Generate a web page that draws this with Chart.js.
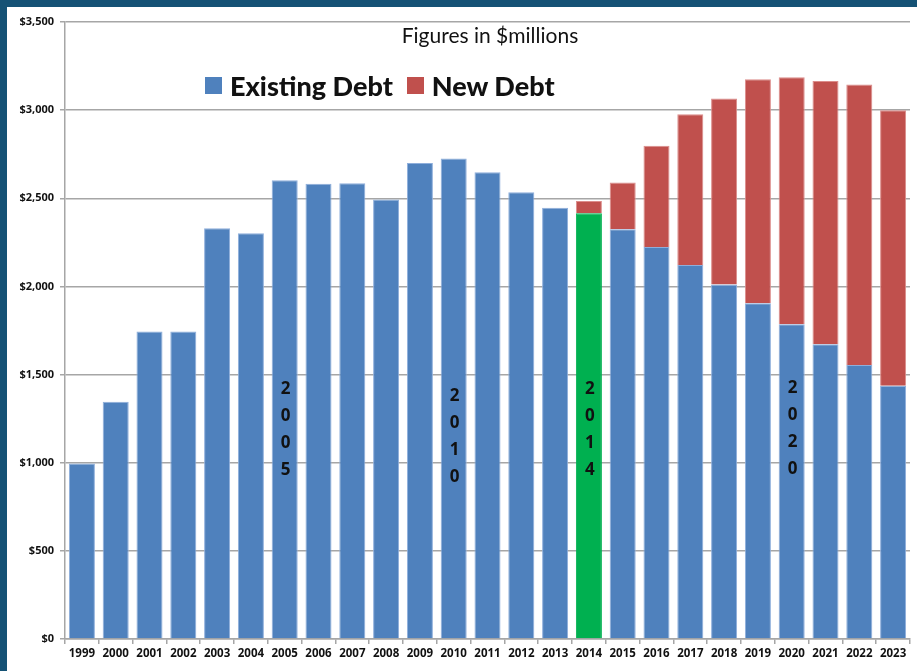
<!DOCTYPE html>
<html>
<head>
<meta charset="utf-8">
<script src="https://cdn.jsdelivr.net/npm/chart.js@4.4.1/dist/chart.umd.min.js"></script>
<style>
  html, body { margin: 0; padding: 0; }
  body { width: 917px; height: 671px; background: #155275; position: relative; overflow: hidden; font-family: Lato, 'Open Sans', sans-serif; }
  .panel { position: absolute; left: 7px; top: 7px; width: 910px; height: 664px; background: #fff; }
  .panel canvas { position: absolute; left: 0; top: 0; }
  .title { position: absolute; left: 0; width: 966px; top: 15px; text-align: center; font-size: 21px; color: #111; }
  .legend { position: absolute; left: 198px; top: 62px; display: flex; align-items: center; font-size: 27px; font-weight: 900; color: #111; }
  .legend span.sw { display: inline-block; width: 17px; height: 17px; margin-right: 8px; }
</style>
</head>
<body>
<div class="panel">
  <canvas id="chart" width="910" height="664"></canvas>
  <div class="title">Figures in $millions</div>
  <div class="legend">
    <span class="sw" style="background:#4f81bd"></span>Existing Debt
    <span class="sw" style="background:#c0504d; margin-left:14px"></span>New Debt
  </div>
</div>
<script>
const years = ['1999','2000','2001','2002','2003','2004','2005','2006','2007','2008','2009','2010','2011','2012',
  '2013','2014','2015','2016','2017','2018','2019','2020','2021','2022','2023'];
const existingDebt = [995, 1346, 1744, 1744, 2330, 2302, 2602, 2582, 2585, 2493, 2700, 2726, 2647, 2534,
  2447, 2415, 2324, 2224, 2121, 2011, 1904, 1785, 1672, 1555, 1436];
const newDebt = [0, 0, 0, 0, 0, 0, 0, 0, 0, 0, 0, 0, 0, 0,
  0, 70, 265, 574, 856, 1055, 1271, 1402, 1494, 1590, 1564];
const highlightYear = '2014';
const yTicks = [0, 500, 1000, 1500, 2000, 2500, 3000, 3500];
// vertical year captions written inside some bars, anchored at a value on the y scale
const captionYears = ['2005', '2010', '2014', '2020'];
const captionValues = [1420, 1380, 1420, 1425];

const colors = {
  blue: '#4f81bd',
  blueEdge: '#8eaedb',
  red: '#c0504d',
  redEdge: '#dc8d8b',
  green: '#00b050',
  greenEdge: '#00b050',
  grid: '#a6a6a6',
  text: '#111',
};

const captionPlugin = {
  id: 'captions',
  afterDatasetsDraw(chart) {
    const { ctx, scales: { x, y } } = chart;
    ctx.save();
    ctx.font = 'bold 17px "Open Sans", sans-serif';
    ctx.fillStyle = colors.text;
    ctx.textAlign = 'center';
    ctx.textBaseline = 'middle';
    captionYears.forEach((yr, i) => {
      const px = x.getPixelForValue(years.indexOf(yr));
      const py = y.getPixelForValue(captionValues[i]);
      yr.split('').forEach((ch, k) => ctx.fillText(ch, px + 1, py + k * 27));
    });
    ctx.restore();
  }
};

new Chart(document.getElementById('chart'), {
  type: 'bar',
  data: {
    labels: years,
    datasets: [
      {
        label: 'Existing Debt',
        data: existingDebt,
        backgroundColor: years.map(y => y === highlightYear ? colors.green : colors.blue),
        borderColor: years.map(y => y === highlightYear ? colors.greenEdge : colors.blueEdge),
        borderWidth: 1,
        borderSkipped: 'bottom',
        categoryPercentage: 1,
        barPercentage: 0.77,
      },
      {
        label: 'New Debt',
        data: newDebt,
        backgroundColor: colors.red,
        borderColor: colors.redEdge,
        borderWidth: 1,
        borderSkipped: 'bottom',
        categoryPercentage: 1,
        barPercentage: 0.77,
      },
    ],
  },
  options: {
    responsive: false,
    animation: false,
    layout: { padding: { top: 15, right: 7, left: 0, bottom: 0 } },
    plugins: {
      legend: { display: false },
      tooltip: { enabled: false },
    },
    scales: {
      x: {
        stacked: true,
        grid: { offset: true, drawOnChartArea: false, color: colors.grid, lineWidth: 1.5, tickLength: 5 },
        border: { color: colors.grid, width: 1.5 },
        ticks: { color: colors.text, font: { family: 'Open Sans', size: 11.5, weight: 'bold' }, padding: 3, maxRotation: 0, autoSkip: false },
        afterFit: s => { s.height = 32; },
      },
      y: {
        stacked: true,
        min: 0,
        max: 3500,
        afterBuildTicks: s => { s.ticks = yTicks.map(v => ({ value: v })); },
        grid: { color: colors.grid, lineWidth: 1.5, tickLength: 5 },
        border: { color: colors.grid, width: 1.5 },
        ticks: {
          color: colors.text,
          font: { family: 'Open Sans', size: 11, weight: 'bold' },
          padding: 6,
          callback: v => '$' + v.toLocaleString('en-US'),
        },
        afterFit: s => { s.width = 58; },
      },
    },
  },
  plugins: [captionPlugin],
});
</script>
</body>
</html>
